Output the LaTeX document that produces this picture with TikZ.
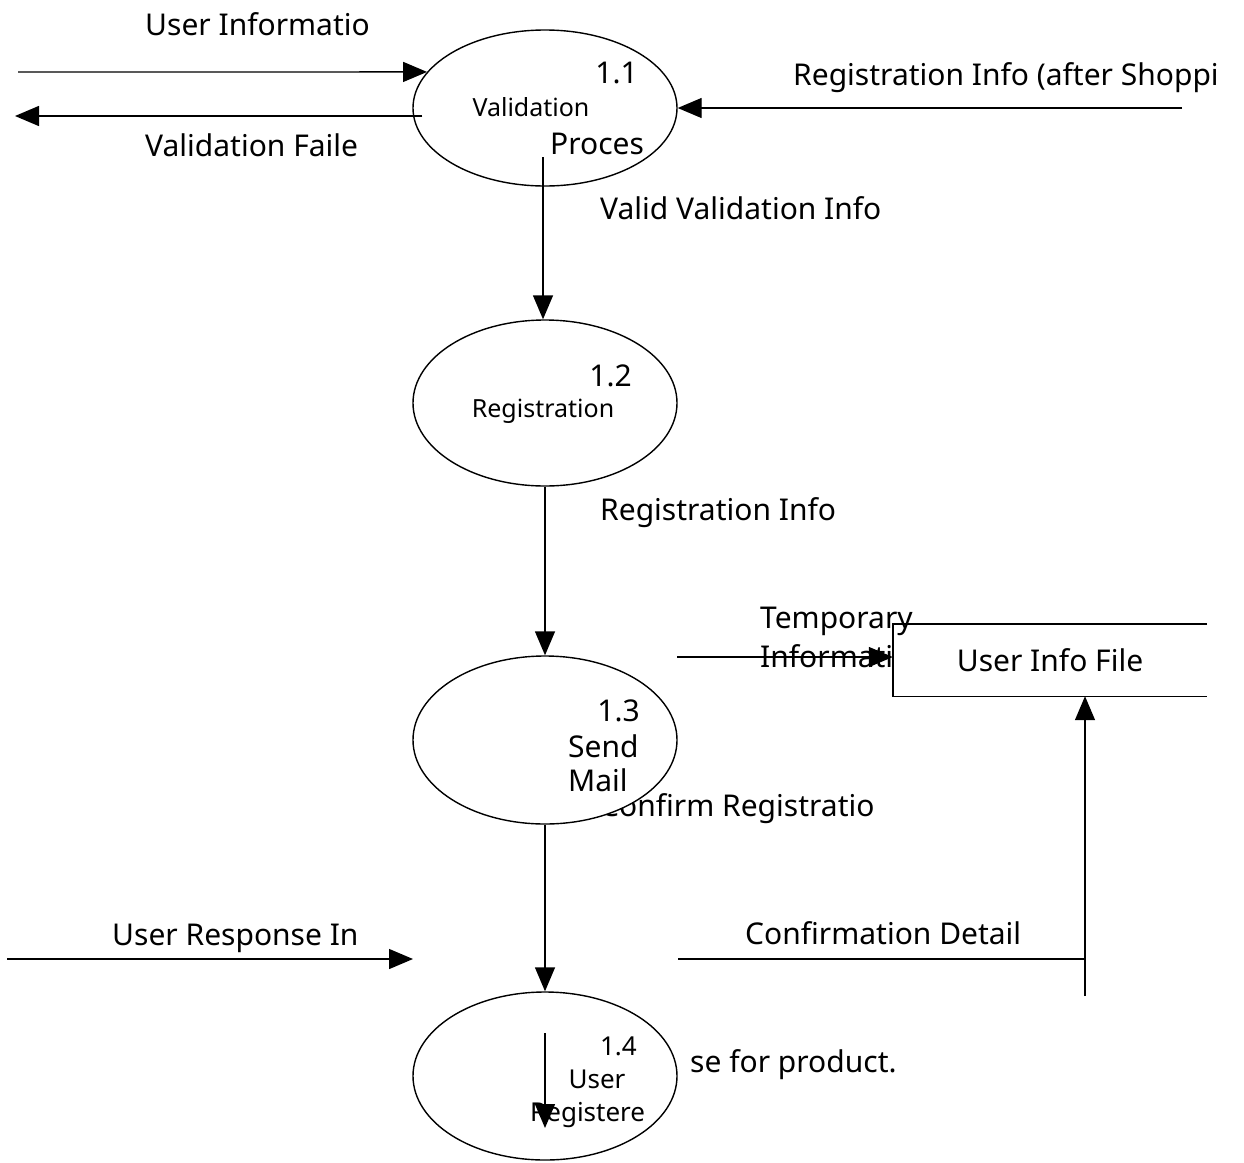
\documentclass[tikz,border=0pt]{standalone}
\usepackage{fontspec}
\setmainfont{Noto Sans}
\usetikzlibrary{arrows.meta,shapes.geometric}
\tikzset{
  proc/.style={draw, ellipse, line width=1.4pt, fill=white, minimum width=264pt, inner sep=0pt},
  flow/.style={line width=1.4pt, -{Triangle[length=24pt,width=20pt]}},
  plain/.style={line width=1.4pt},
  lbl/.style={font=\fontsize{30}{34}\selectfont, inner sep=0pt},
  small/.style={font=\fontsize{25}{28}\selectfont, inner sep=0pt},
  tiny/.style={font=\fontsize{26}{30}\selectfont, inner sep=0pt},
}
\begin{document}
\begin{tikzpicture}[x=1pt,y=-1pt]
        \useasboundingbox (0,0) rectangle (1244,1162);

        % labels lying under the processes
        \node[lbl, anchor=base west] (crlbl) at (600,816) {Confirm Registratio};
        \node[lbl, anchor=base west] (prlbl) at (690,1072) {se for product.};

        \node[proc, minimum height=156pt] (p11) at (545,108) {};
        \node[proc, minimum height=166pt] (p12) at (545,403) {};
        \node[proc, minimum height=168pt] (p13) at (545,740) {};
        \node[proc, minimum height=168pt] (p14) at (545,1076) {};

        \node[lbl, anchor=base east] (p11num) at (638,83) {1.1};
        \node[small, anchor=base] (p11txt) at (531,116) {Validation};
        \node[lbl, anchor=base west] (p11sub) at (550,154) {Proces};

        \node[lbl, anchor=base east] (p12num) at (632,386) {1.2};
        \node[small, anchor=base] (p12txt) at (543,417) {Registration};

        \node[lbl, anchor=base east] (p13num) at (640,721) {1.3};
        \node[lbl, anchor=base west] (p13txt) at (568,757) {Send};
        \node[lbl, anchor=base west] (p13sub) at (568,791) {Mail};

        \node[tiny, anchor=base east] (p14num) at (637,1055) {1.4};
        \node[tiny, anchor=base] (p14txt) at (597,1088) {User};
        \node[tiny, anchor=base west] (p14sub) at (530,1121) {Registere};

        % data store
        \node[lbl, minimum width=314pt, minimum height=72pt] (store) at (1050,660) {User Info File};
        \draw[plain] (store.north east) -- (store.north west) -- (store.south west) -- (store.south east);

        % flows
        \coordinate (uiA) at (18,72);
        \draw[flow] (uiA) -- (p11.163);
        \node[lbl, anchor=base west] (uilbl) at (145,35) {User Informatio};

        \coordinate (vfB) at (15,116);
        \draw[flow] ([xshift=10pt,yshift=-8pt]p11.west) -- (vfB);
        \node[lbl, anchor=base west] (vflbl) at (145,156) {Validation Faile};

        \coordinate (riA) at (1182,108);
        \draw[flow] (riA) -- (p11.east);
        \node[lbl, anchor=base west] (rilbl) at (793,85) {Registration Info (after Shoppi};

        \coordinate (vvA) at (543,157);
        \draw[flow] (vvA) -- (vvA |- p12.north);
        \node[lbl, anchor=base west] (vvlbl) at (600,219) {Valid Validation Info};

        \draw[flow] (p12.south) -- (p13.north);
        \node[lbl, anchor=base west] (rglbl) at (600,520) {Registration Info};

        \node[lbl, anchor=base west] (tilbl) at (760,628) {Temporary};
        \node[lbl, anchor=base west] (tilbl2) at (760,667) {Informati};
        \coordinate (tiA) at (677,657);
        \draw[flow] (tiA) -- (tiA -| store.west);

        \draw[flow] (p13.south) -- (p14.north);

        \coordinate (urA) at (7,959);
        \coordinate (urB) at (413,959);
        \draw[flow] (urA) -- (urB);
        \node[lbl, anchor=base west] (urlbl) at (112,945) {User Response In};

        \coordinate (cdA) at (678,959);
        \coordinate (cdB) at (1085,959);
        \coordinate (cdC) at (1085,996);
        \draw[plain] (cdA) -- (cdB);
        \draw[flow] (cdC) -- (cdC |- store.south);
        \node[lbl, anchor=base west] (cdlbl) at (745,944) {Confirmation Detail};

        \coordinate (inA) at (545,1033);
        \coordinate (inB) at (545,1128);
        \draw[flow] (inA) -- (inB);
    \end{tikzpicture}
\end{document}
